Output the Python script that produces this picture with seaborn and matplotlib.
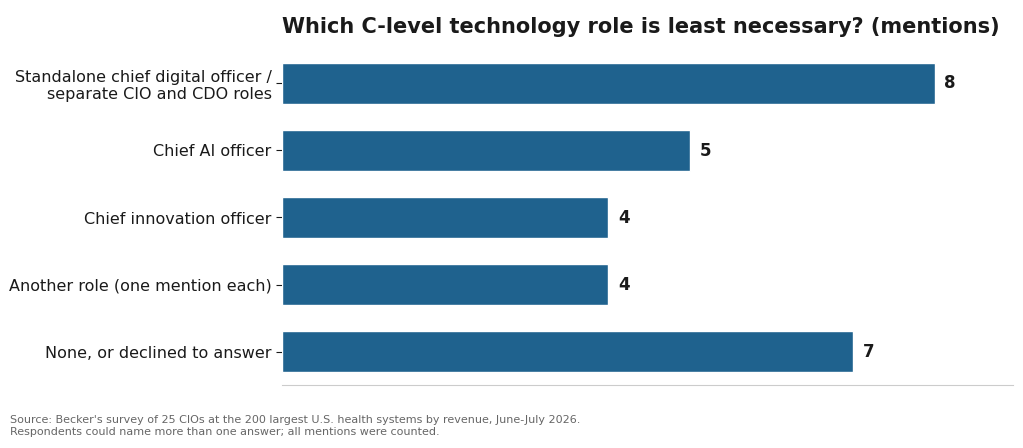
import matplotlib
matplotlib.use("Agg")
import matplotlib.pyplot as plt
import seaborn as sns
import pandas as pd

roles = ["Standalone chief digital officer /\nseparate CIO and CDO roles",
         "Chief AI officer",
         "Chief innovation officer",
         "Another role (one mention each)",
         "None, or declined to answer"]
mentions = [8, 5, 4, 4, 7]

df = pd.DataFrame({"role": roles, "mentions": mentions})

sns.set_style("white")
plt.rcParams["font.family"] = ["DejaVu Sans"]

fig = plt.figure(figsize=(10.23, 4.48), dpi=100)
ax = fig.add_axes([282 / 1023, 1 - 385 / 448, 731 / 1023, 335 / 448])
sns.barplot(data=df, x="mentions", y="role", color="#1f628e", width=0.61,
            saturation=1, ax=ax)

for i, v in enumerate(mentions):
    ax.text(v + 0.12, i, str(v), va="center", ha="left",
            fontsize=12, fontweight="bold", color="#1a1a1a")

ax.set_xlim(0, 8.96)
ax.set_xticks([])
ax.set_xlabel("")
ax.set_ylabel("")
ax.tick_params(axis="y", length=4, labelsize=11.5, colors="#1a1a1a", left=True)
for s in ["top", "right", "left"]:
    ax.spines[s].set_visible(False)
ax.spines["bottom"].set_color("#cccccc")

ax.set_title("Which C-level technology role is least necessary? (mentions)",
             loc="left", fontsize=15, fontweight="bold", color="#1a1a1a", pad=12)

fig.text(10 / 1023, 1 - 426 / 448,
         "Source: Becker's survey of 25 CIOs at the 200 largest U.S. health systems by revenue, June-July 2026.\n"
         "Respondents could name more than one answer; all mentions were counted.",
         fontsize=8, color="#666666", va="center", ha="left")

fig.savefig("out.png", dpi=100)
